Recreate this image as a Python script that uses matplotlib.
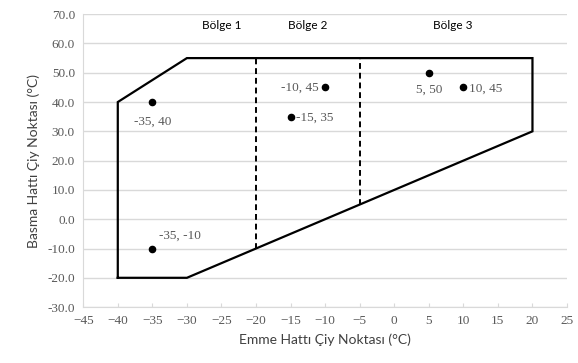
import matplotlib
matplotlib.use('Agg')
import matplotlib.pyplot as plt

# envelope corners (suction dew point, discharge dew point)
env_x = [-40, -40, -30, 20, 20, -30, -40]
env_y = [-20, 40, 55, 55, 30, -20, -20]

# zone boundaries
div1_x = [-20, -20]
div1_y = [-10, 55]
div2_x = [-5, -5]
div2_y = [5, 55]

# operating points
pt_x = [-35, -35, -10, -15, 5, 10]
pt_y = [40, -10, 45, 35, 50, 45]

zones = ["Bölge 1", "Bölge 2", "Bölge 3"]
zone_x = [-25, -12.5, 8.5]
zone_y = 66

GRID = "#d9d9d9"
TICK = "#595959"
TITLE = "#404040"

fig, ax = plt.subplots(figsize=(5.78, 3.63), dpi=100)
fig.subplots_adjust(left=0.144, right=0.981, top=0.961, bottom=0.154)

ax.plot(env_x, env_y, color="black", linewidth=1.6, solid_joinstyle='miter', zorder=3)
ax.plot(div1_x, div1_y, color="black", linewidth=1.4, linestyle=(0, (3, 2)), zorder=3)
ax.plot(div2_x, div2_y, color="black", linewidth=1.4, linestyle=(0, (3, 2)), zorder=3)
ax.scatter(pt_x, pt_y, s=20, color="black", zorder=4)

# point labels: offsets in points
offsets = [(0, -10, 'center', 'top'), (5, 5, 'left', 'bottom'), (-5, 0, 'right', 'center'),
           (4, -1, 'left', 'center'), (0, -8, 'center', 'top'), (4, -1, 'left', 'center')]
for x, y, (dx, dy, ha, va) in zip(pt_x, pt_y, offsets):
    ax.annotate(f"{x}, {y}", (x, y), xytext=(dx, dy), textcoords='offset points',
                ha=ha, va=va, fontsize=9.5, color=TICK, family='Liberation Serif')

for name, zx in zip(zones, zone_x):
    ax.text(zx, zone_y, name, ha='center', va='center', fontsize=8.5, color="black", family='Lato')

ax.set_xlim(-45, 25)
ax.set_ylim(-30, 70)
ax.set_xticks(range(-45, 26, 5))
ax.set_yticks(range(-30, 71, 10))
ax.set_yticklabels([f"{v:.1f}" for v in range(-30, 71, 10)])
for lbl in ax.get_xticklabels() + ax.get_yticklabels():
    lbl.set_family('Liberation Serif')
    lbl.set_fontsize(9.5)
    lbl.set_color(TICK)

ax.grid(axis='y', color=GRID, linewidth=1)
ax.set_axisbelow(True)
ax.tick_params(axis='y', length=0, pad=6)
ax.tick_params(axis='x', direction='in', length=3, color=GRID, pad=6)
ax.spines['top'].set_visible(False)
ax.spines['right'].set_visible(False)
ax.spines['bottom'].set_color(GRID)
ax.spines['left'].set_color(GRID)

ax.set_xlabel("Emme Hattı Çiy Noktası (°C)", fontsize=10, color=TITLE, family='Lato', labelpad=4)
ax.set_ylabel("Basma Hattı Çiy Noktası (°C)", fontsize=10, color=TITLE, family='Lato', labelpad=5)

fig.savefig("out.png", dpi=100)
